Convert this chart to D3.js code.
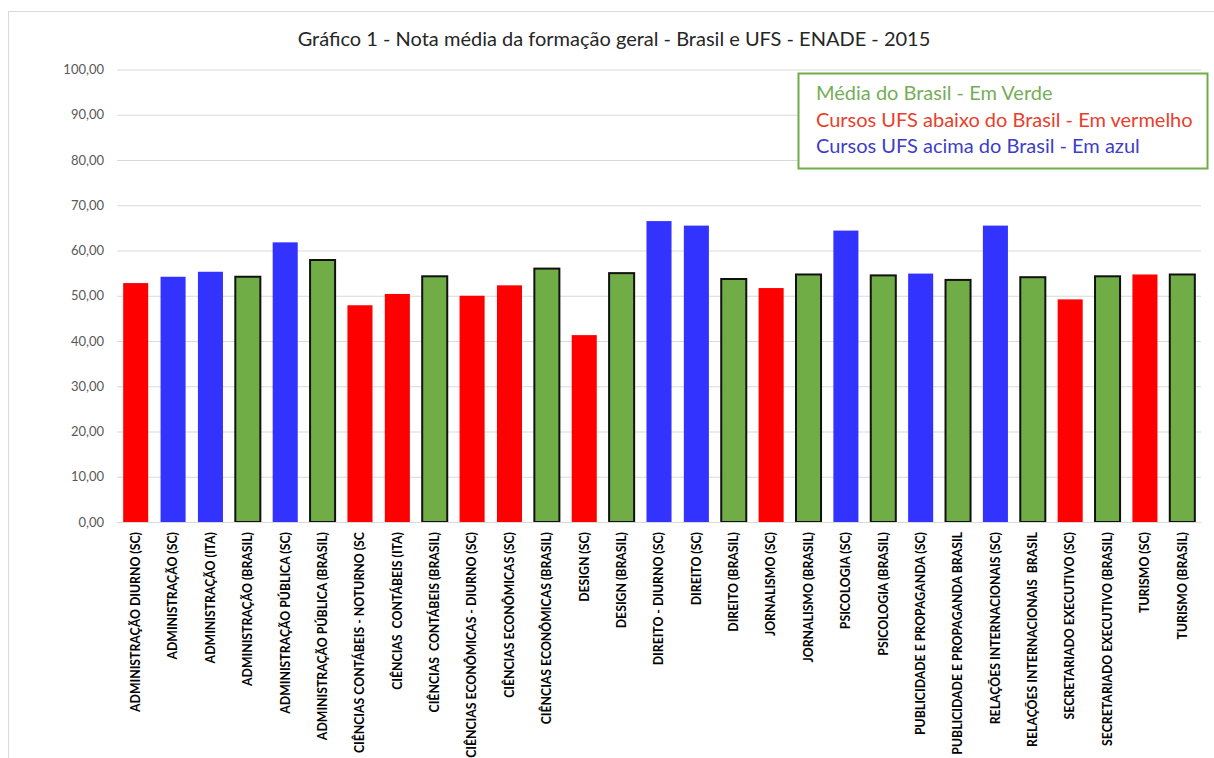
<!DOCTYPE html>
<html>
<head>
<meta charset="utf-8">
<script src="https://cdn.jsdelivr.net/npm/d3@7"></script>
<style>
  body { margin: 0; background: #fff; }
  svg { display: block; }
</style>
</head>
<body>
<div id="chart"></div>
<script>
// categorias (eixo x)
const cursos = [
  "ADMINISTRAÇÃO DIURNO (SC)",
  "ADMINISTRAÇÃO (SC)",
  "ADMINISTRAÇÃO (ITA)",
  "ADMINISTRAÇÃO (BRASIL)",
  "ADMINISTRAÇÃO PÚBLICA (SC)",
  "ADMINISTRAÇÃO PÚBLICA (BRASIL)",
  "CIÊNCIAS CONTÁBEIS - NOTURNO (SC",
  "CIÊNCIAS  CONTÁBEIS (ITA)",
  "CIÊNCIAS  CONTÁBEIS (BRASIL)",
  "CIÊNCIAS ECONÔMICAS - DIURNO (SC)",
  "CIÊNCIAS ECONÔMICAS (SC)",
  "CIÊNCIAS ECONÔMICAS (BRASIL)",
  "DESIGN (SC)",
  "DESIGN (BRASIL)",
  "DIREITO - DIURNO (SC)",
  "DIREITO (SC)",
  "DIREITO (BRASIL)",
  "JORNALISMO (SC)",
  "JORNALISMO (BRASIL)",
  "PSICOLOGIA (SC)",
  "PSICOLOGIA (BRASIL)",
  "PUBLICIDADE E PROPAGANDA (SC)",
  "PUBLICIDADE E PROPAGANDA BRASIL",
  "RELAÇÕES INTERNACIONAIS (SC)",
  "RELAÇÕES INTERNACIONAIS  BRASIL",
  "SECRETARIADO EXECUTIVO (SC)",
  "SECRETARIADO EXECUTIVO (BRASIL)",
  "TURISMO (SC)",
  "TURISMO (BRASIL)"
];

// nota media
const notas = [
  52.8, 54.2, 55.3, 54.2, 61.8, 57.9, 47.9, 50.4, 54.3, 50.0,
  52.3, 56.0, 41.3, 55.0, 66.5, 65.5, 53.7, 51.7, 54.7, 64.4,
  54.5, 54.9, 53.5, 65.5, 54.1, 49.2, 54.3, 54.7, 54.7
];

// grupo: "br" = media do Brasil, "abaixo" = UFS abaixo, "acima" = UFS acima
const grupos = [
  "abaixo", "acima", "acima", "br", "acima", "br", "abaixo", "abaixo", "br", "abaixo",
  "abaixo", "br", "abaixo", "br", "acima", "acima", "br", "abaixo", "br", "acima",
  "br", "acima", "br", "acima", "br", "abaixo", "br", "abaixo", "br"
];

const yTicks = [0, 10, 20, 30, 40, 50, 60, 70, 80, 90, 100];

const legenda = [
  "Média do Brasil - Em Verde",
  "Cursos UFS abaixo do Brasil - Em vermelho",
  "Cursos UFS acima do Brasil - Em azul"
];

const data = cursos.map((c, i) => ({curso: c, nota: notas[i], grupo: grupos[i]}));

const W = 1214, H = 758;
const fill = {br: "#70ad47", abaixo: "#ff0000", acima: "#3333ff"};
const legendColors = ["#76ad58", "#e8402c", "#3d3dc8"];

const svg = d3.select("#chart")
    .append("svg")
    .attr("width", W)
    .attr("height", H)
    .attr("font-family", "Lato, 'Open Sans', sans-serif");

// moldura do grafico
svg.append("rect")
    .attr("x", 8.5)
    .attr("y", 11.5)
    .attr("width", W + 20)
    .attr("height", H + 20)
    .attr("fill", "#fff")
    .attr("stroke", "#d9d9d9");

const x = d3.scaleBand()
    .domain(cursos)
    .range([117, 1201])
    .paddingInner(0.33)
    .paddingOuter(0.165);

const y = d3.scaleLinear()
    .domain([0, 100])
    .range([522, 69.5]);

// linhas de grade
svg.append("g")
    .attr("transform", "translate(117,0)")
    .call(d3.axisLeft(y)
        .tickValues(yTicks)
        .tickSize(-(1201 - 117))
        .tickFormat(""))
    .call(g => g.select(".domain").remove())
    .call(g => g.selectAll("line").attr("stroke", "#d9d9d9"));

// rotulos do eixo y
svg.append("g")
    .attr("transform", "translate(117,0)")
    .call(d3.axisLeft(y)
        .tickValues(yTicks)
        .tickSize(0)
        .tickPadding(13)
        .tickFormat(d => d3.format(".2f")(d).replace(".", ",")))
    .call(g => g.select(".domain").remove())
    .call(g => g.selectAll("text")
        .attr("fill", "#595959")
        .attr("font-size", "13px")
        .attr("font-family", "Lato, sans-serif"));

// barras
svg.append("g")
    .selectAll("rect")
    .data(data)
    .join("rect")
    .attr("x", d => x(d.curso))
    .attr("y", d => y(d.nota))
    .attr("width", x.bandwidth())
    .attr("height", d => y(0) - y(d.nota))
    .attr("fill", d => fill[d.grupo])
    .attr("stroke", d => d.grupo === "br" ? "#111" : "none")
    .attr("stroke-width", 2);

// eixo x
svg.append("g")
    .attr("transform", `translate(0,${y(0)})`)
    .call(d3.axisBottom(x).tickSize(0).tickPadding(0))
    .call(g => g.select(".domain").attr("stroke", "#d9d9d9"))
    .call(g => g.selectAll("text")
        .attr("transform", "rotate(-90)")
        .attr("text-anchor", "end")
        .attr("x", -10)
        .attr("y", 0)
        .attr("dy", "0.35em")
        .attr("fill", "#000")
        .attr("font-weight", "bold")
        .attr("font-size", "12.3px")
        .attr("font-family", "Lato, sans-serif")
        .style("white-space", "pre"));

// titulo
svg.append("text")
    .attr("x", 614)
    .attr("y", 46)
    .attr("text-anchor", "middle")
    .attr("font-size", "20px")
    .attr("fill", "#262626")
    .text("Gráfico 1 - Nota média da formação geral - Brasil e UFS - ENADE - 2015");

// legenda
svg.append("rect")
    .attr("x", 798.5)
    .attr("y", 73.5)
    .attr("width", 409)
    .attr("height", 95)
    .attr("fill", "#fff")
    .attr("stroke", "#70ad47")
    .attr("stroke-width", 2);

svg.append("g")
    .selectAll("text")
    .data(legenda)
    .join("text")
    .attr("x", 816)
    .attr("y", (d, i) => 100 + i * 26.5)
    .attr("fill", (d, i) => legendColors[i])
    .attr("font-size", "20px")
    .text(d => d);
</script>
</body>
</html>
